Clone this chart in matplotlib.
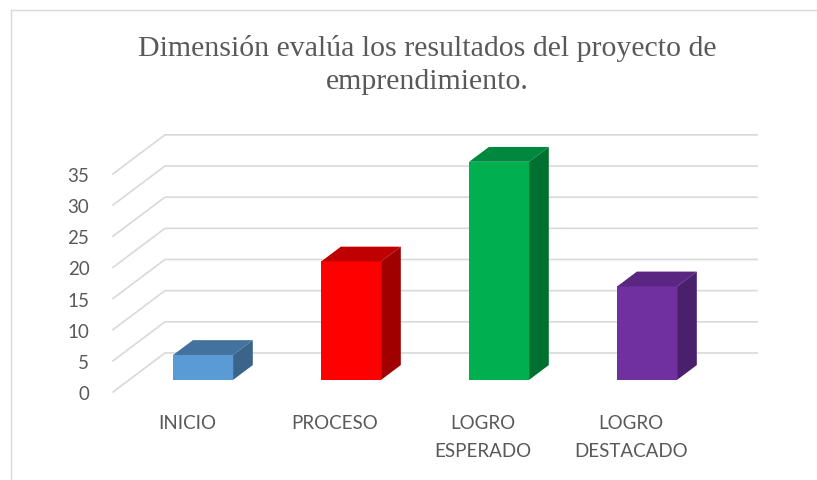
import numpy as np
import matplotlib
matplotlib.use("Agg")
import matplotlib.pyplot as plt
from matplotlib.patches import Polygon
from matplotlib.lines import Line2D

# ---------------- data ----------------
categorias = ["INICIO", "PROCESO", "LOGRO\nESPERADO", "LOGRO\nDESTACADO"]
valores = [4, 19, 35, 15]
yticks = [0, 5, 10, 15, 20, 25, 30, 35]
titulo = "Dimensión evalúa los resultados del proyecto de\nemprendimiento."

col_frente = ["#5B9BD5", "#FF0000", "#00B050", "#7030A0"]
col_arriba = ["#44729E", "#C00000", "#00893E", "#5A2682"]
col_lado = ["#3A6489", "#A00000", "#007030", "#4A1F6B"]
# --------------------------------------

# fake 3d geometry (data units)
DX = 0.351      # full depth, x units
DY = 6.26       # full depth, value units
f_front = 0.31  # where bar front sits in the depth
f_depth = 0.38  # how deep the bar is
w = 0.405

fig = plt.figure(figsize=(8.17, 4.81), dpi=100)
W, H = 817, 481
ax = fig.add_axes([113 / W, (H - 393) / H, 662 / W, 263 / H])
ax.set_xlim(-0.5, 3.973)
ax.set_ylim(0, 42.2)
for s in ax.spines.values():
    s.set_visible(False)

# grid: side wall diagonal + back wall horizontal
x_left, x_right = -0.5, 3.5
for v in yticks:
    ax.plot([x_left, x_left + DX, x_right + DX], [v, v + DY, v + DY],
            color="#D9D9D9", lw=1.2, clip_on=False, zorder=1)

x = np.arange(len(valores))
ox = f_front * DX
oy = f_front * DY
bx = f_depth * DX
by = f_depth * DY
ax.bar(x + ox, valores, width=w, bottom=oy, color=col_frente, zorder=3)
for i, v in enumerate(valores):
    l = i + ox - w / 2
    r = i + ox + w / 2
    t = oy + v
    top = Polygon([(l, t), (r, t), (r + bx, t + by), (l + bx, t + by)],
                  closed=True, color=col_arriba[i], zorder=3, lw=0)
    side = Polygon([(r, oy), (r + bx, oy + by), (r + bx, t + by), (r, t)],
                   closed=True, color=col_lado[i], zorder=3, lw=0)
    ax.add_patch(top)
    ax.add_patch(side)

ax.set_yticks(yticks)
ax.set_xticks(x)
ax.set_xticklabels(categorias, linespacing=1.75)
ax.tick_params(axis="both", length=0, labelcolor="#595959", labelsize=13.5)
ax.tick_params(axis="y", pad=17)
ax.tick_params(axis="x", pad=16)
for lab in ax.get_xticklabels() + ax.get_yticklabels():
    lab.set_family("Lato")

fig.text(0.523, 1 - 65 / H, titulo, ha="center", va="center",
         family="Liberation Serif", fontsize=21.5, color="#595959",
         linespacing=1.32)

# chart frame (only left and top show)
fig.add_artist(Line2D([10.5 / W, 10.5 / W], [0, 1 - 10.5 / H],
                      transform=fig.transFigure, color="#D9D9D9", lw=1))
fig.add_artist(Line2D([10.5 / W, 1], [1 - 10.5 / H, 1 - 10.5 / H],
                      transform=fig.transFigure, color="#D9D9D9", lw=1))

fig.savefig("out.png", dpi=100)
